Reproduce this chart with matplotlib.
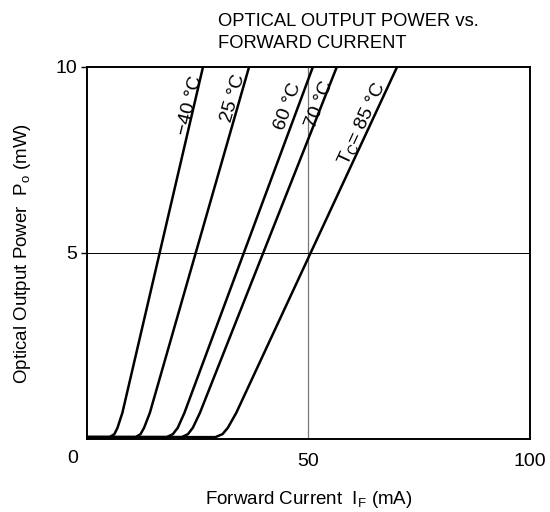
import matplotlib
matplotlib.use("Agg")
import matplotlib.pyplot as plt

plt.rcParams["font.family"] = ["Liberation Sans", "DejaVu Sans"]

# forward current (mA) / optical output power (mW)
i_m40 = [0, 5.1, 6.2, 6.9, 8.0, 26.2]
p_m40 = [0.05, 0.05, 0.13, 0.3, 0.7, 10]
i_25 = [0, 11.0, 12.1, 12.9, 14.2, 36.6]
p_25 = [0.05, 0.05, 0.13, 0.3, 0.7, 10]
i_60 = [0, 18.0, 19.4, 20.5, 22.0, 51.0]
p_60 = [0.05, 0.05, 0.13, 0.3, 0.7, 10]
i_70 = [0, 21.4, 22.8, 23.9, 25.5, 56.4]
p_70 = [0.05, 0.05, 0.13, 0.3, 0.7, 10]
i_85 = [0, 29.0, 30.6, 31.8, 33.7, 70.0]
p_85 = [0.05, 0.05, 0.13, 0.3, 0.7, 10]

curve_labels = ["\u221240 \u00b0C", "25 \u00b0C", "60 \u00b0C", "70 \u00b0C",
                "T$_\\mathregular{C}$= 85 \u00b0C"]
label_x = [23.2, 33.0, 45.5, 52.4, 62.3]
label_y = [8.95, 9.15, 8.95, 9.0, 8.45]
label_rot = [76, 74, 70, 69, 65]

fig = plt.figure(figsize=(5.5, 5.12), dpi=100)
ax = fig.add_axes([0.158, 0.1426, 0.8056, 0.7266])

for xs, ys in [(i_m40, p_m40), (i_25, p_25), (i_60, p_60), (i_70, p_70), (i_85, p_85)]:
    ax.plot(xs, ys, color="black", lw=1.8, solid_capstyle="round",
            solid_joinstyle="round")

for txt, x, y, r in zip(curve_labels, label_x, label_y, label_rot):
    ax.text(x, y, txt, rotation=r, ha="center", va="center", fontsize=14,
            rotation_mode="anchor")

ax.axvline(50, color="#777777", lw=0.9, zorder=0)
ax.axhline(5, color="black", lw=0.7, zorder=0)

ax.set_xlim(0, 100)
ax.set_ylim(0, 10)
ax.set_xticks([0, 50, 100])
ax.set_xticklabels(["", "50", "100"])
ax.set_yticks([5, 10])
ax.set_yticklabels(["5", "10"])
ax.tick_params(labelsize=14, length=4, width=1, direction="out", pad=3)
ax.tick_params(axis="x", length=0, pad=10)
ax.text(-0.032, -0.052, "0", transform=ax.transAxes, ha="center", va="center",
        fontsize=14)

for s in ax.spines.values():
    s.set_linewidth(1.4)

ax.set_xlabel("Forward Current  I$_\\mathregular{F}$ (mA)", fontsize=13.5, labelpad=14)
ax.set_ylabel("Optical Output Power  P$_\\mathregular{o}$ (mW)", fontsize=13.5, labelpad=16)

fig.text(0.396, 0.975, "OPTICAL OUTPUT POWER vs.\nFORWARD CURRENT", ha="left", va="top",
         fontsize=13.2, linespacing=1.4)

fig.savefig("out.png", dpi=100)
